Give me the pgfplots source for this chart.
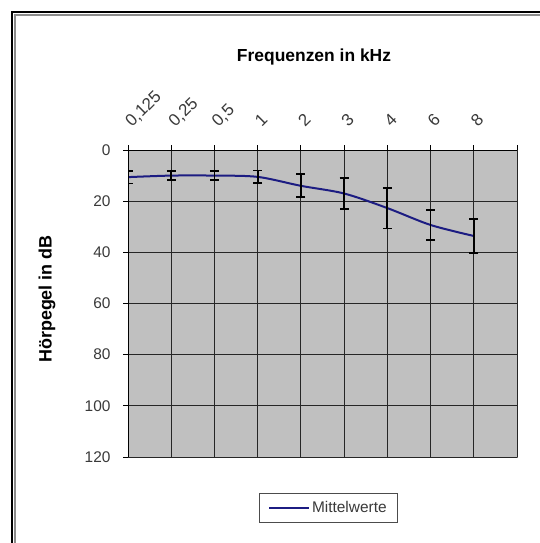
\documentclass[border=0pt]{standalone}
\usepackage{fontspec}
\setmainfont{Liberation Sans}
\usepackage{pgfplots}
\pgfplotsset{compat=1.18}
\definecolor{plotgray}{HTML}{C0C0C0}
\definecolor{navyline}{HTML}{1C1C82}
\definecolor{ticktext}{HTML}{3A3A3A}
\begin{document}
\begin{tikzpicture}[x=1bp,y=1bp]
\useasboundingbox (0,0) rectangle (540,-543);
\fill[white] (0,0) rectangle (540,-543);
\draw[line width=2bp, black] (12,-543) -- (12,-12) -- (540,-12);
\draw[line width=2bp, black!45] (15,-543) -- (15,-15) -- (540,-15);
\node[font=\bfseries\fontsize{17.5}{19}\selectfont] at (314,-57) {Frequenzen in kHz};
\node[font=\bfseries\fontsize{18}{19}\selectfont, rotate=90] at (47,-299) {Hörpegel in dB};
\begin{axis}[
  at={(128bp,-150bp)}, anchor=north west,
  scale only axis, width=389bp, height=307bp,
  xmin=0, xmax=9, ymin=0, ymax=120, y dir=reverse,
  axis x line*=top, axis y line*=left,
  axis line style={black, line width=1bp},
  axis background/.style={fill=plotgray, draw=black!55, line width=0.8bp},
  xtick={0,...,9}, xticklabels={{0,125},{0,25},{0,5},1,2,3,4,6,8,{}},
  ytick={0,20,...,120},
  grid=major, major grid style={black!85, line width=1bp},
  tick align=outside, major tick length=5bp, tick style={black, line width=1bp},
  xticklabel style={xshift=4bp, yshift=17bp, rotate=45, anchor=base west, inner sep=0pt,
    font=\fontsize{17}{17}\selectfont, text=ticktext},
  yticklabel style={xshift=-9bp, font=\fontsize{15.5}{16}\selectfont, text=ticktext},
  /pgf/number format/assume math mode=true,
  legend style={at={(0.515,-0.117)}, anchor=north, draw=black!70, line width=0.8bp,
    font=\fontsize{15.5}{16}\selectfont, text=ticktext, inner xsep=9bp, inner ysep=6bp},
  legend image code/.code={\draw[#1, line width=2bp] (0bp,0bp) -- (40bp,0bp);},
]
\addplot[navyline, line width=2bp, smooth,
  error bars/.cd, y dir=both, y explicit,
  error mark=-,
  error bar style={black, line width=1.8bp},
  error mark options={black, rotate=90, mark size=4.5bp, line width=1.8bp}]
  table[x=x, y=y, y error=e] {
x y e
0 10.6 2.5
1 10.0 1.8
2 10.0 1.7
3 10.5 2.5
4 14.0 4.5
5 17.0 6.0
6 22.7 8.0
7 29.3 5.8
8 33.6 6.6
};
\addlegendentry{Mittelwerte}
\end{axis}
\end{tikzpicture}
\end{document}
